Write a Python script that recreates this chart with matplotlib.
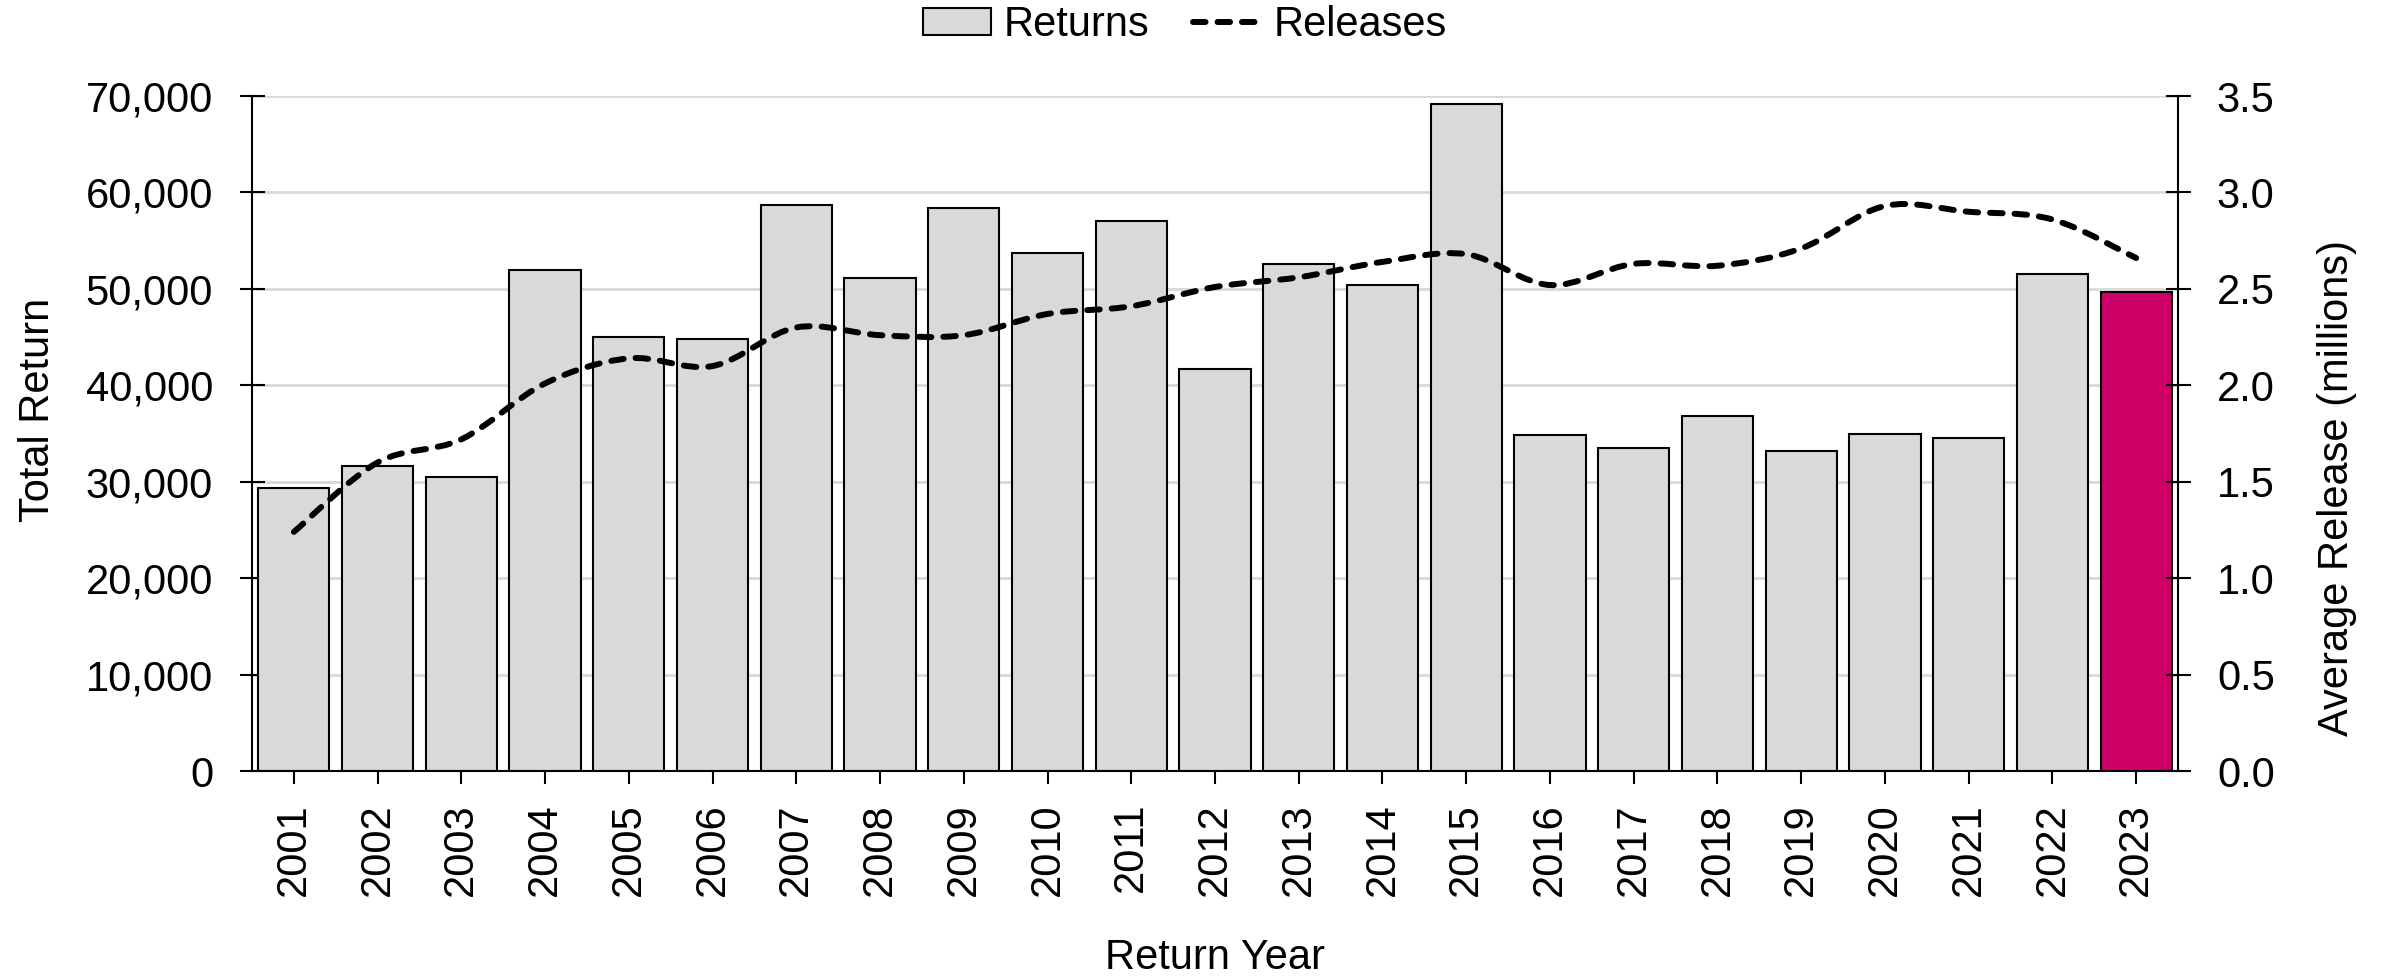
import numpy as np
import matplotlib.pyplot as plt
from matplotlib.path import Path
from matplotlib.patches import PathPatch, Patch
from matplotlib.lines import Line2D
from matplotlib.ticker import FuncFormatter

plt.rcParams['font.family'] = ['Liberation Sans', 'DejaVu Sans']

years = ['2001', '2002', '2003', '2004', '2005', '2006', '2007', '2008', '2009', '2010', '2011', '2012',
         '2013', '2014', '2015', '2016', '2017', '2018', '2019', '2020', '2021', '2022', '2023']
returns = [29400, 31600, 30500, 52000, 45000, 44800, 58700, 51100, 58400, 53700, 57000, 41700,
           52600, 50400, 69200, 34800, 33500, 36800, 33200, 35000, 34500, 51500, 49700]
releases = [1.24, 1.60, 1.72, 2.01, 2.14, 2.10, 2.30, 2.26, 2.26, 2.37, 2.41, 2.51,
            2.56, 2.64, 2.68, 2.52, 2.63, 2.62, 2.71, 2.93, 2.90, 2.86, 2.66]

grey = '#d9d9d9'
highlight = '#cc0066'
fs = 30


def smooth_path(x, y):
    # smoothed line like the spreadsheet one (bezier through every point)
    n = len(x)
    verts = [(x[0], y[0])]
    codes = [Path.MOVETO]
    for i in range(n - 1):
        xa, ya = (x[i - 1], y[i - 1]) if i > 0 else (x[i], y[i])
        xb, yb = (x[i + 2], y[i + 2]) if i + 2 < n else (x[i + 1], y[i + 1])
        c1 = (x[i] + (x[i + 1] - xa) / 6, y[i] + (y[i + 1] - ya) / 6)
        c2 = (x[i + 1] - (xb - x[i]) / 6, y[i + 1] - (yb - y[i]) / 6)
        verts += [c1, c2, (x[i + 1], y[i + 1])]
        codes += [Path.CURVE4] * 3
    return Path(verts, codes)


fig = plt.figure(figsize=(23.84, 9.76), dpi=100)
ax = fig.add_axes([0.1057, 0.21, 0.8079, 0.6916])
ax2 = ax.twinx()

x = np.arange(len(years))
colors = [grey] * (len(years) - 1) + [highlight]
ax.bar(x, returns, width=0.85, color=colors, edgecolor='black', linewidth=1.5, zorder=2)

ax.set_xlim(-0.5, len(years) - 0.5)
ax.set_ylim(0, 70000)
ax.set_yticks(np.arange(0, 70001, 10000))
ax.yaxis.set_major_formatter(FuncFormatter(lambda v, p: f'{int(v):,}'))
ax.set_xticks(x)
ax.set_xticklabels(years, rotation=90)
ax.grid(axis='y', color=grey, linewidth=2)
ax.set_axisbelow(True)

ax2.set_ylim(0, 3.5)
ax2.set_yticks(np.arange(0, 3.51, 0.5))
ax2.yaxis.set_major_formatter(FuncFormatter(lambda v, p: f'{v:.1f}'))

lw = 4.3
dash = (0, (2.1, 2.0))
ax2.add_patch(PathPatch(smooth_path(x, releases), fill=False, edgecolor='black', linewidth=lw,
                        linestyle=dash, capstyle='round', zorder=3))

for a in (ax, ax2):
    a.spines['top'].set_visible(False)
ax.spines['right'].set_visible(False)
ax2.spines['left'].set_visible(False)
ax2.spines['bottom'].set_visible(False)
for s in ('left', 'bottom'):
    ax.spines[s].set_linewidth(1.5)
ax2.spines['right'].set_linewidth(1.5)

ax.tick_params(axis='y', direction='inout', length=18, width=1.5, labelsize=fs, pad=19)
ax.tick_params(axis='x', direction='inout', length=18, width=1.5, labelsize=fs, pad=14)
ax2.tick_params(axis='y', direction='inout', length=18, width=1.5, labelsize=fs, pad=19)

ax.set_ylabel('Total Return', fontsize=fs, labelpad=20)
ax2.set_ylabel('Average Release (millions)', fontsize=fs, labelpad=30)
ax.set_xlabel('Return Year', fontsize=fs, labelpad=30)
# the axis titles are not centred on the plot in the original
ax.yaxis.label.set_y(0.535)
ax2.yaxis.label.set_y(0.42)

handles = [Patch(facecolor=grey, edgecolor='black', linewidth=1.5),
           Line2D([0], [0], color='black', linewidth=lw, linestyle=dash, dash_capstyle='round')]
fig.legend(handles, ['Returns', 'Releases'], loc='center', bbox_to_anchor=(0.497, 0.974),
           ncol=2, frameon=False, fontsize=fs, handlelength=1.63, handleheight=0.63,
           handletextpad=0.31, columnspacing=1.05, borderaxespad=0.0, borderpad=0.0)

fig.savefig('out.png', dpi=100)
